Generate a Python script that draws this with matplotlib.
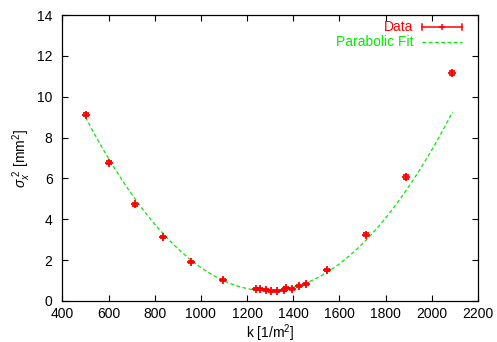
import numpy as np
import matplotlib
matplotlib.use("Agg")
import matplotlib.pyplot as plt

plt.rcParams['font.family'] = ['Liberation Sans', 'DejaVu Sans']
plt.rcParams['mathtext.fontset'] = 'custom'
plt.rcParams['mathtext.rm'] = 'Liberation Sans'
plt.rcParams['mathtext.it'] = 'Liberation Sans:italic'
plt.rcParams['mathtext.sf'] = 'Liberation Sans'

# Data
k_vals = [502, 602, 715, 834, 956, 1094, 1240, 1255, 1280, 1305, 1330, 1360, 1370,
          1395, 1425, 1453, 1548, 1715, 1888, 2089]
sigma2 = [9.12, 6.77, 4.73, 3.12, 1.90, 1.01, 0.60, 0.60, 0.56, 0.50, 0.50, 0.55, 0.65,
          0.60, 0.72, 0.85, 1.53, 3.25, 6.07, 11.18]
sigma2_err = [0.08, 0.06, 0.06, 0.06, 0.05, 0.05, 0.05, 0.05, 0.05, 0.05, 0.05, 0.05, 0.05,
              0.05, 0.05, 0.05, 0.05, 0.07, 0.08, 0.10]

# Parabolic fit parameters
fit_a = 1.365e-5
fit_k0 = 1289.0
fit_c = 0.50
fit_kmin, fit_kmax = 500, 2090

x_ticks = [400, 600, 800, 1000, 1200, 1400, 1600, 1800, 2000, 2200]
y_ticks = [0, 2, 4, 6, 8, 10, 12, 14]

fig = plt.figure(figsize=(4.97, 3.42), dpi=100)
ax = fig.add_axes([0.1254, 0.1199, 0.9618 - 0.1254, 0.9561 - 0.1199])

red = '#ff0000'
green = '#00ee00'
fs = 10

kk = np.linspace(fit_kmin, fit_kmax, 300)
ax.plot(kk, fit_a * (kk - fit_k0) ** 2 + fit_c, color=green, lw=0.9,
        dashes=(3, 2), zorder=2)

ax.errorbar(k_vals, sigma2, yerr=sigma2_err, fmt='+', color=red, ms=6, mew=1.3,
            elinewidth=1.0, capsize=2.2, capthick=1.0, zorder=3)

ax.set_xlim(400, 2200)
ax.set_ylim(0, 14)
ax.set_xticks(x_ticks)
ax.set_yticks(y_ticks)
ax.tick_params(direction='in', length=4, width=0.8, top=True, right=True,
               labelsize=fs, colors='black')
ax.tick_params(axis='x', pad=4)
ax.tick_params(axis='y', pad=7)
for s in ax.spines.values():
    s.set_linewidth(0.9)

ax.set_xlabel('k [1/m$^2$]', fontsize=fs, labelpad=1)
ax.set_ylabel(r'$\sigma_x^{\ 2}$ [mm$^2$]', fontsize=fs, labelpad=3)

# Legend (gnuplot style: text left, sample right)
def fx(px):
    return (px - 62.3) / (478 - 62.3)

def fy(py):
    return (301 - py) / (301 - 15)

ax.text(fx(413), fy(27.3), 'Data', color=red, fontsize=fs, ha='right', va='center',
        transform=ax.transAxes)
ax.text(fx(413), fy(41.7), 'Parabolic Fit', color=green, fontsize=fs, ha='right',
        va='center', transform=ax.transAxes)
ax.plot([fx(422.3), fx(461.7)], [fy(27.3), fy(27.3)], color=red, lw=1.1,
        transform=ax.transAxes, clip_on=False)
for xe in (422.3, 461.7):
    ax.plot([fx(xe), fx(xe)], [fy(24.3), fy(30.3)], color=red, lw=1.1,
            transform=ax.transAxes, clip_on=False)
ax.plot([fx(441.7)], [fy(27.3)], marker='+', color=red, ms=5, mew=1.1,
        transform=ax.transAxes, clip_on=False)
ax.plot([fx(422.3), fx(461.7)], [fy(41.7), fy(41.7)], color=green, lw=0.9,
        dashes=(3, 2), transform=ax.transAxes, clip_on=False)

fig.savefig('out.png', dpi=100)
